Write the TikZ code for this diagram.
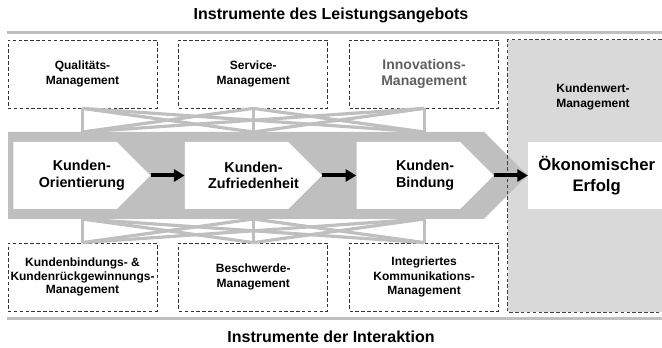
\documentclass[tikz,border=0pt]{standalone}
\usepackage{fontspec}
\setmainfont{Liberation Sans}
\usepackage{tikz}
\usetikzlibrary{positioning,shapes.symbols,arrows.meta,calc}

\definecolor{bandgray}{HTML}{BFBFBF}
\definecolor{valuegray}{HTML}{D9D9D9}
\definecolor{textgray}{HTML}{5F5F5F}

\begin{document}
\begin{tikzpicture}[x=0.75pt, y=-0.75pt,
    toolbox/.style={rectangle, draw=black!80, dash pattern=on 2.6pt off 1.8pt, line width=0.6pt, minimum width=111.75pt, minimum height=51pt, inner sep=1pt, align=center, font=\bfseries\fontsize{9}{11}\selectfont},
    stagenode/.style={signal, signal to=east, signal pointer angle=90, fill=white, minimum width=102.75pt, minimum height=50.25pt, inner sep=0pt},
    stagetext/.style={align=center, font=\bfseries\fontsize{10.75}{12.5}\selectfont},
    linkline/.style={draw=bandgray, line width=2.4pt},
    rulebar/.style={draw=bandgray, line width=2.4pt},
    flowarrow/.style={-{Triangle[length=8pt,width=9pt]}, line width=3pt},
    titlenode/.style={font=\bfseries\fontsize{12}{14}\selectfont}]

    \useasboundingbox (0,0) rectangle (662,348);

    % Kundenwert-Management (background)
    \node[rectangle, fill=valuegray, minimum width=117.75pt, minimum height=204pt, inner sep=0pt] (kwert) at (586.5,176) {};
    \node[font=\bfseries\fontsize{9}{11}\selectfont, align=center] (kwlabel) at (593,97) {Kundenwert-\\Management};

    % titles and rules
    \node[titlenode] (toptitle) at (331,15) {Instrumente des Leistungsangebots};
    \node[titlenode] (bottitle) at (331,337) {Instrumente der Interaktion};
    \draw[rulebar] (7,32.5) -- (662,32.5);
    \draw[rulebar] (7,318.5) -- (662,318.5);

    % instruments
    \node[toolbox] (qual) at (82.5,74) {Qualitäts-\\Management};
    \node[toolbox] (serv) [right=15.75pt of qual] {Service-\\Management};
    \node[toolbox, text=textgray, font=\bfseries\fontsize{10.5}{11.5}\selectfont] (innov) [right=15.75pt of serv] {Innovations-\\Management};
    \node[toolbox, font=\bfseries\fontsize{9}{10}\selectfont] (bind) at (82.5,277) {Kundenbindungs- \&\\Kundenrückgewinnungs-\\Management};
    \node[toolbox] (besch) [right=15.75pt of bind] {Beschwerde-\\Management};
    \node[toolbox] (komm) [right=15.75pt of besch] {Integriertes\\Kommunikations-\\Management};

    \coordinate (bandtop) at (0,132);
    \coordinate (bandbot) at (0,219);

    % links between instruments and chain
    \foreach \a in {qual,serv,innov}
        \foreach \b in {qual,serv,innov}
            \draw[linkline] (\a.south) -- (\b.south |- bandtop);
    \foreach \a in {bind,besch,komm}
        \foreach \b in {bind,besch,komm}
            \draw[linkline] (\a.north) -- (\b.north |- bandbot);

    % big arrow
    \fill[bandgray] (8,132) -- (484,132) -- (527.5,175.5) -- (484,219) -- (8,219) -- cycle;
    \draw[draw=black!75, dash pattern=on 2.6pt off 1.8pt, line width=0.6pt] (kwert.south east) -- (kwert.south west) -- (kwert.north west) -- (kwert.north east);

    % chain
    \node[stagenode, anchor=west] (orient) at (13,175.5) {};
    \node[stagenode] (zufr) [right=25.5pt of orient] {};
    \node[stagenode] (bindung) [right=25.5pt of zufr] {};
    \node[rectangle, fill=white, minimum width=102.75pt, minimum height=50.25pt, inner sep=0pt, align=center, font=\bfseries\fontsize{12.5}{16}\selectfont] (erfolg) [right=25.5pt of bindung] {Ökonomischer\\Erfolg};

    \node[stagetext] (orienttext) at ($(orient.west)!.5!(orient.east)$) {Kunden-\\Orientierung};
    \node[stagetext] (zufrtext) at ($(zufr.west)!.5!(zufr.east)$) {Kunden-\\Zufriedenheit};
    \node[stagetext] (bindungtext) at ($(bindung.west)!.5!(bindung.east)$) {Kunden-\\Bindung};

    \draw[flowarrow] (orient.east) -- (zufr.west);
    \draw[flowarrow] (zufr.east) -- (bindung.west);
    \draw[flowarrow] (bindung.east) -- (erfolg.west);

\end{tikzpicture}
\end{document}
